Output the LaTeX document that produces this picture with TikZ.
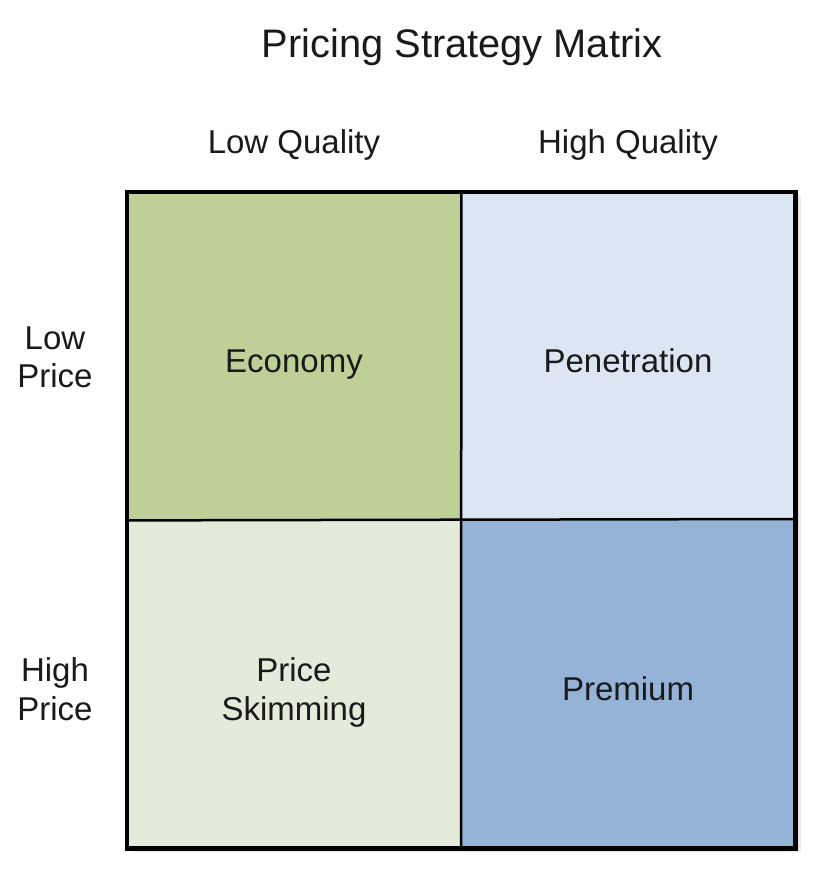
\documentclass[tikz,border=0pt]{standalone}
\usepackage{fontspec}
\setmainfont{Liberation Sans}
\definecolor{econ}{HTML}{BED097}
\definecolor{pene}{HTML}{DCE6F2}
\definecolor{skim}{HTML}{E4EBDA}
\definecolor{prem}{HTML}{95B3D7}
\definecolor{ink}{HTML}{1A1A1A}
\tikzset{
  cell/.style={draw=none, minimum width=334pt, minimum height=328pt, inner sep=0pt, anchor=north west},
  lbl/.style={font=\fontsize{33}{38.5}\selectfont, text=ink, align=center, anchor=base, inner sep=0pt},
  ttl/.style={font=\fontsize{39.8}{46}\selectfont, text=ink, anchor=base, inner sep=0pt},
}
\begin{document}
\begin{tikzpicture}[x=1pt,y=-1pt]
\fill[white] (0,0) rectangle (828,888);
\useasboundingbox (0,0) rectangle (828,888);
% soft shadow
\fill[black!8] (131,196) rectangle (801,852);
\fill[black!12] (129,194) rectangle (799,850);
% cells
\node[cell, fill=econ] (econ) at (127,192) {};
\node[cell, fill=pene] (pene) at (461,192) {};
\node[cell, fill=skim, minimum height=329pt] (skim) at (127,519) {};
\node[cell, fill=prem, minimum height=329pt] (prem) at (461,519) {};
% grid lines
\draw[line width=2.5pt, black] (econ.north east) -- (prem.south west);
\draw[line width=2.5pt, black] (econ.south west) -- (prem.north east);
\draw[line width=4.5pt, black] (econ.north west) rectangle (prem.south east);
% texts
\node[ttl] (title) at (462,58) {Pricing Strategy Matrix};
\node[lbl] (lq) at (294,153) {Low Quality};
\node[lbl] (hq) at (628,153) {High Quality};
\node[lbl] (lp) at (55,387.5) {Low\\Price};
\node[lbl] (hp) at (55,720) {High\\Price};
\node[lbl] (te) at (294,372) {Economy};
\node[lbl] (tp) at (628,372) {Penetration};
\node[lbl] (ts) at (294,720) {Price\\Skimming};
\node[lbl] (tm) at (628,700) {Premium};
\end{tikzpicture}
\end{document}
